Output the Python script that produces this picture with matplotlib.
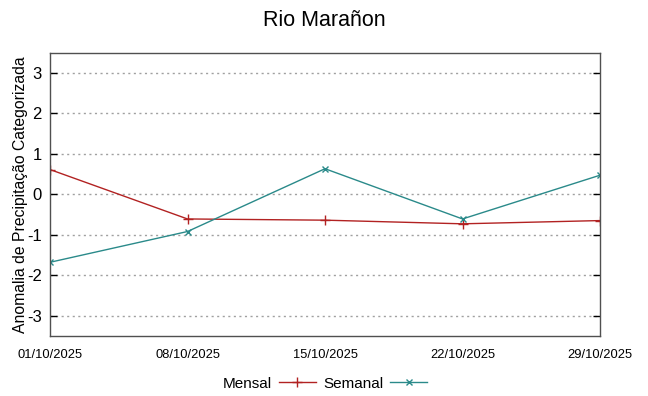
import matplotlib.pyplot as plt
import numpy as np

dates = ['01/10/2025', '08/10/2025', '15/10/2025', '22/10/2025', '29/10/2025']
mensal = [0.61, -0.61, -0.64, -0.73, -0.65]
semanal = [-1.68, -0.92, 0.63, -0.61, 0.47]
yticks = [-3, -2, -1, 0, 1, 2, 3]

plt.rcParams['font.family'] = ['Liberation Sans', 'DejaVu Sans']

fig = plt.figure(figsize=(6.48, 3.96), dpi=100)
ax = fig.add_axes([50 / 648, 60 / 396, 550 / 648, 283.5 / 396])

x = np.arange(len(dates))
ax.plot(x, mensal, color='#b22222', lw=1, marker='+', ms=7, mew=1, label='Mensal')
ax.plot(x, semanal, color='#2a8a8a', lw=1, marker='x', ms=5, mew=1, label='Semanal')

ax.set_xlim(0, len(dates) - 1)
ax.set_ylim(-3.5, 3.5)
ax.set_xticks(x)
ax.set_xticklabels(dates, fontsize=9.3)
ax.set_yticks(yticks)
ax.set_yticklabels([str(v) for v in yticks], fontsize=12)
ax.tick_params(axis='both', direction='in', length=5, color='black', width=1,
               right=True, top=False, pad=6)
ax.tick_params(axis='x', length=0, pad=9)
ax.yaxis.grid(True, linestyle=(0, (1.5, 2.5)), color='#a0a0a0', lw=1)
for s in ax.spines.values():
    s.set_color('#505050')
    s.set_linewidth(1)

ax.set_ylabel('Anomalia de Precipitação Categorizada', fontsize=11.3, labelpad=-1)
fig.suptitle('Rio Marañon', fontsize=15.5, y=0.975)

ax.legend(loc='upper center', bbox_to_anchor=(0.5, -0.095), ncol=2, frameon=False,
          markerfirst=False, fontsize=11, handlelength=2.4, columnspacing=0.5,
          handletextpad=0.45)

fig.savefig('out.png', dpi=100)
